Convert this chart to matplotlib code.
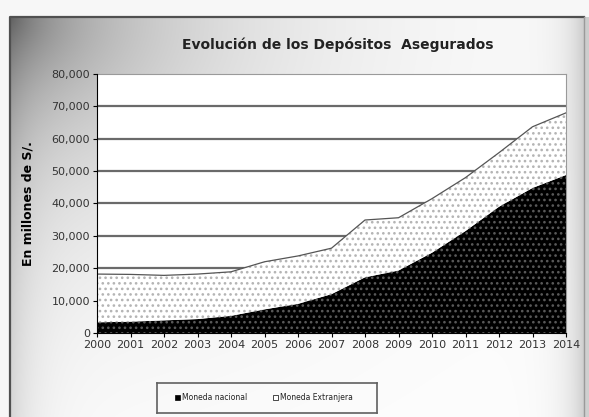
import matplotlib.pyplot as plt
import numpy as np
from matplotlib.patches import Rectangle

# Insured deposits, millions of soles
years = list(range(2000, 2015))
nacional = [3300, 3500, 3900, 4300, 5300, 7300, 9000, 12000, 17200, 19300,
            24800, 31500, 39000, 44800, 48800]
total = [18200, 18100, 17800, 18200, 18900, 22000, 23800, 26200, 34900, 35600,
         41500, 48000, 55700, 63700, 68000]
extranjera = [t - n for t, n in zip(total, nacional)]
yTicks = list(range(0, 80001, 10000))

plt.rcParams['hatch.linewidth'] = 1.1

W, H = 589, 417
fig = plt.figure(figsize=(W / 100, H / 100), dpi=100)

# chart area background: gray shading fading to white
bg = fig.add_axes([0, 0, 1, 1])
yy, xx = np.mgrid[0:H, 0:W]
dist = np.hypot(xx - 10, (yy - 17) * 1.3)
shade = (1 - 0.48 * np.exp(-dist / 170)
         - 0.18 * np.exp(-(583 - xx).clip(0) / 18)
         - 0.14 * np.exp(-(xx - 10).clip(0) / 25))
shade = shade.clip(0, 1)
shade[:17, :] = 0.97
shade[:, :10] = 0.97
bg.imshow(np.dstack([shade] * 3), extent=(0, W, H, 0), aspect='auto')
bg.plot([10, 10, 584], [H, 17, 17], color='#505050', linewidth=1.6)
bg.plot([584, 584], [17, H], color='#9a9a9a', linewidth=1.0)
bg.set_xlim(0, W)
bg.set_ylim(H, 0)
bg.axis('off')

# plot area
ax = fig.add_axes([97 / W, (H - 333) / H, 469 / W, (333 - 74) / H])
ax.set_facecolor('white')
ax.set_xlim(years[0], years[-1])
ax.set_ylim(0, 80000)

for v in yTicks[1:-1]:
    ax.axhline(v, color='#6a6a6a', linewidth=1.6, zorder=1)

ax.fill_between(years, 0, nacional, facecolor='black', linewidth=0, zorder=2)
ax.fill_between(years, 0, nacional, facecolor='none', edgecolor='#5a5a5a',
                hatch='...', linewidth=0, zorder=3)
ax.fill_between(years, nacional, total, facecolor='white', linewidth=0, zorder=2)
ax.fill_between(years, nacional, total, facecolor='none', edgecolor='#b4b4b4',
                hatch='...', linewidth=0, zorder=3)
ax.plot(years, total, color='#555555', linewidth=0.9, zorder=4)

ax.spines['top'].set_color('#9a9a9a')
ax.spines['right'].set_color('#9a9a9a')
ax.spines['left'].set_color('black')
ax.spines['bottom'].set_color('black')
for s in ['left', 'bottom']:
    ax.spines[s].set_zorder(5)

ax.set_yticks(yTicks)
ax.set_yticklabels([f"{v:,}" for v in yTicks])
ax.set_xticks(years)
ax.set_xticklabels([str(y) for y in years])
ax.tick_params(axis='both', direction='out', length=3, width=0.8, labelsize=8,
               labelcolor='#333333', pad=2)

ax.set_ylabel("En millones de S/.", fontsize=9, fontweight='bold', labelpad=12)

fig.text(338 / W, 1 - 45 / H, "Evolución de los Depósitos  Asegurados",
         fontsize=10, fontweight='bold', color='#222222', ha='center', va='center')

# legend box under the chart
legAx = fig.add_axes([157 / W, (H - 413) / H, 220 / W, 30 / H])
legAx.set_xlim(0, 220)
legAx.set_ylim(0, 30)
legAx.set_facecolor('none')
for s in legAx.spines.values():
    s.set_color('#606060')
    s.set_linewidth(1.2)
legAx.set_xticks([])
legAx.set_yticks([])
legAx.add_patch(Rectangle((18, 13), 5, 5, facecolor='black', edgecolor='black', linewidth=0.5))
legAx.text(25, 15.5, "Moneda nacional", fontsize=5.5, va='center', color='#222222')
legAx.add_patch(Rectangle((116, 13), 5, 5, facecolor='white', edgecolor='black', linewidth=0.5))
legAx.text(123, 15.5, "Moneda Extranjera", fontsize=5.5, va='center', color='#222222')

fig.savefig("out.png", dpi=100)
